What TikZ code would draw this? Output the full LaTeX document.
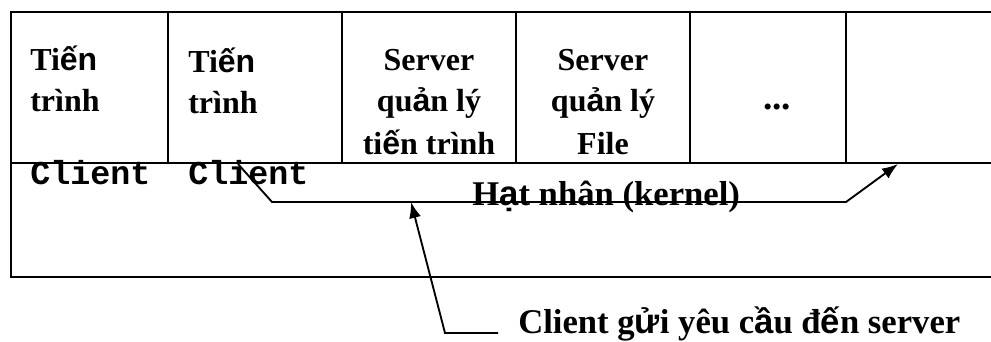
\documentclass[tikz,border=0pt]{standalone}
\usepackage{fontspec}
\setmainfont{Liberation Serif}
\setmonofont{Liberation Mono}
\newfontfamily\vnsans{Liberation Sans}
\usetikzlibrary{arrows.meta}
\newcommand\vsx[1]{{\vnsans\bfseries #1}}
\begin{document}
\begin{tikzpicture}[x=0.75pt,y=-0.75pt,
  frame/.style={line width=1.5pt},
  big/.style={font=\fontsize{24}{30}\selectfont\bfseries, inner sep=0pt},
  lbl/.style={font=\fontsize{26}{30}\selectfont\bfseries, inner sep=0pt},
  mono/.style={font=\fontsize{25}{30}\selectfont\ttfamily\bfseries, inner sep=0pt},
  conn/.style={line width=1.4pt},
  tip/.style={-{Latex[length=12pt,width=9pt]}}
]
\path[use as bounding box] (0,0) rectangle (991,342);
% frame
\draw[frame] (991,12) -- (11,12) -- (11,277) -- (991,277);
\draw[frame] (11,163) -- (991,163);
\foreach \x in {168,342,516,690,846} \draw[frame] (\x,12) -- (\x,163);
% texts
\node[big,anchor=base west] (t1a) at (30,71) {Ti\vsx{ến}};
\node[big,anchor=base west] (t1b) at (30,112) {trình};
\node[mono,anchor=base west] (cl1) at (30,185) {Client};
\node[big,anchor=base west] (t2a) at (188,73) {Ti\vsx{ến}};
\node[big,anchor=base west] (t2b) at (188,114) {trình};
\node[mono,anchor=base west] (cl2) at (188,185) {Client};
\node[big,anchor=base] (s1a) at (429,71) {Server};
\node[big,anchor=base] (s1b) at (429,112) {qu\vsx{ả}n lý};
\node[big,anchor=base] (s1c) at (429,154) {ti\vsx{ế}n trình};
\node[big,anchor=base] (s2a) at (603,71) {Server};
\node[big,anchor=base] (s2b) at (603,112) {qu\vsx{ả}n lý};
\node[big,anchor=base] (s2c) at (603,154) {File};
\node[big,anchor=base,font=\fontsize{28}{30}\selectfont\bfseries] (dots) at (777,110) {...};
\node[lbl,anchor=base west] (kern) at (472,205) {H\vsx{ạ}t nhân (kernel)};
\node[lbl,anchor=base west] (req) at (518,333) {Client g\vsx{ử}i yêu c\vsx{ầ}u đ\vsx{ế}n server};
% connectors
\coordinate (a1) at (238,164);
\coordinate (a2) at (272,202);
\coordinate (a3) at (846,202);
\coordinate (a4) at (898,164);
\draw[conn,tip] (a1) -- (a2) -- (a3) -- (a4);
\coordinate (b1) at (498,333);
\coordinate (b2) at (445,333);
\coordinate (b3) at (411,202);
\draw[conn,tip] (b1) -- (b2) -- (b3);
\end{tikzpicture}
\end{document}
